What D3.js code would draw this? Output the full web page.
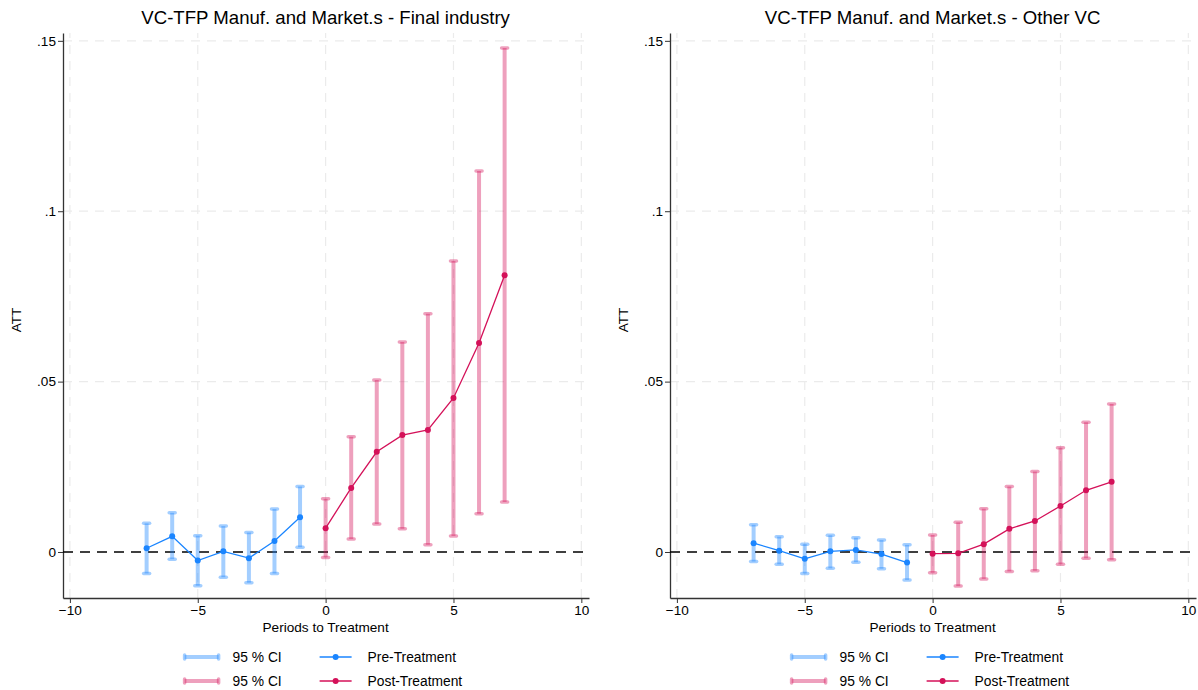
<!DOCTYPE html>
<html>
<head>
<meta charset="utf-8">
<script src="https://cdn.jsdelivr.net/npm/d3@7"></script>
<style>
  body { margin: 0; background: #fff; }
  text { font-family: "Liberation Sans", Arial, sans-serif; fill: #000; }
</style>
</head>
<body>
<div id="chart"></div>
<script>
var W = 1198, H = 690;

// periods
var prePeriods = [-7, -6, -5, -4, -3, -2, -1];
var postPeriods = [0, 1, 2, 3, 4, 5, 6, 7];

// panel 1 - Final industry
var finalPreAtt = [0.0011, 0.0046, -0.0025, 0.0002, -0.0018, 0.0032, 0.0102];
var finalPreLo  = [-0.0063, -0.0021, -0.0099, -0.0074, -0.0090, -0.0063, 0.0014];
var finalPreHi  = [0.0084, 0.0115, 0.0048, 0.0076, 0.0057, 0.0126, 0.0192];
var finalPostAtt = [0.0070, 0.0188, 0.0294, 0.0343, 0.0358, 0.0452, 0.0613, 0.0812];
var finalPostLo  = [-0.0016, 0.0038, 0.0082, 0.0068, 0.0021, 0.0047, 0.0112, 0.0147];
var finalPostHi  = [0.0156, 0.0338, 0.0505, 0.0616, 0.0699, 0.0854, 0.1118, 0.1479];

// panel 2 - Other VC
var otherPreAtt = [0.0026, 0.0004, -0.0020, 0.0002, 0.0006, -0.0006, -0.0031];
var otherPreLo  = [-0.0028, -0.0036, -0.0063, -0.0048, -0.0030, -0.0049, -0.0082];
var otherPreHi  = [0.0080, 0.0045, 0.0023, 0.0049, 0.0042, 0.0035, 0.0021];
var otherPostAtt = [-0.0005, -0.0004, 0.0023, 0.0068, 0.0091, 0.0135, 0.0181, 0.0206];
var otherPostLo  = [-0.0061, -0.0100, -0.0079, -0.0057, -0.0055, -0.0036, -0.0018, -0.0023];
var otherPostHi  = [0.0050, 0.0087, 0.0127, 0.0192, 0.0236, 0.0306, 0.0381, 0.0434];

var xTicks = [-10, -5, 0, 5, 10];
var yTicks = [0, 0.05, 0.1, 0.15];
var yTickLabels = ["0", ".05", ".1", ".15"];

var preColor = "#1a85ff", postColor = "#d41159";
var ciOpacity = 0.4;

var svg = d3.select("#chart").append("svg")
    .attr("width", W)
    .attr("height", H);

function drawPanel(left, title, preAtt, preLo, preHi, postAtt, postLo, postHi) {
    var right = left + 526;
    var x = d3.scaleLinear().domain([-10.27, 10.3]).range([left, right]);
    var y = d3.scaleLinear().domain([-0.0135, 0.1523]).range([598, 33]);
    var g = svg.append("g");

    // grid
    g.selectAll(".vgrid").data(xTicks).enter().append("line")
        .attr("x1", function (d) { return x(d); })
        .attr("x2", function (d) { return x(d); })
        .attr("y1", y.range()[0]).attr("y2", y.range()[1])
        .attr("stroke", "#ebebeb").attr("stroke-width", 1.2)
        .attr("stroke-dasharray", "9,7");
    g.selectAll(".hgrid").data(yTicks.slice(1)).enter().append("line")
        .attr("x1", left).attr("x2", right)
        .attr("y1", function (d) { return y(d); })
        .attr("y2", function (d) { return y(d); })
        .attr("stroke", "#ebebeb").attr("stroke-width", 1.2)
        .attr("stroke-dasharray", "9,7");

    // axes
    var xAxis = g.append("g")
        .attr("transform", "translate(0,598)")
        .call(d3.axisBottom(x).tickValues(xTicks).tickSize(5).tickSizeOuter(0));
    var yAxis = g.append("g")
        .attr("transform", "translate(" + left + ",0)")
        .call(d3.axisLeft(y).tickValues(yTicks).tickSize(5).tickSizeOuter(0)
            .tickFormat(function (d, i) { return yTickLabels[i]; }));
    [xAxis, yAxis].forEach(function (a) {
        a.select(".domain").attr("stroke", "#333").attr("stroke-width", 1.3);
        a.selectAll(".tick line").attr("stroke", "#333");
        a.selectAll("text").style("font-size", "13.6px")
            .style("font-family", "Liberation Sans, Arial, sans-serif").attr("fill", "#000");
    });
    yAxis.selectAll("text").attr("x", -7);
    xAxis.selectAll("text").attr("y", 7);

    // zero line
    g.append("line")
        .attr("x1", left).attr("x2", right)
        .attr("y1", y(0)).attr("y2", y(0))
        .attr("stroke", "#000").attr("stroke-width", 1.6)
        .attr("stroke-dasharray", "10,7");

    function drawSeries(periods, att, lo, hi, color) {
        var ci = g.append("g");
        periods.forEach(function (p, i) {
            ci.append("line")
                .attr("x1", x(p)).attr("x2", x(p))
                .attr("y1", y(lo[i])).attr("y2", y(hi[i]))
                .attr("stroke", color).attr("stroke-opacity", ciOpacity)
                .attr("stroke-width", 4);
            [lo[i], hi[i]].forEach(function (v) {
                ci.append("line")
                    .attr("x1", x(p) - 3).attr("x2", x(p) + 3)
                    .attr("y1", y(v)).attr("y2", y(v))
                    .attr("stroke", color).attr("stroke-opacity", ciOpacity)
                    .attr("stroke-width", 3.5)
                    .attr("stroke-linecap", "round");
            });
        });
        var pts = periods.map(function (p, i) { return [p, att[i]]; });
        g.append("path")
            .datum(pts)
            .attr("fill", "none")
            .attr("stroke", color).attr("stroke-width", 1.3)
            .attr("d", d3.line().x(function (d) { return x(d[0]); }).y(function (d) { return y(d[1]); }));
        g.selectAll(null).data(pts).enter().append("circle")
            .attr("cx", function (d) { return x(d[0]); })
            .attr("cy", function (d) { return y(d[1]); })
            .attr("r", 3)
            .attr("fill", color);
    }
    drawSeries(prePeriods, preAtt, preLo, preHi, preColor);
    drawSeries(postPeriods, postAtt, postLo, postHi, postColor);

    var cx = x(0);
    // title
    g.append("text")
        .attr("x", cx).attr("y", 24)
        .attr("text-anchor", "middle")
        .style("font-size", "18.6px")
        .text(title);
    // axis titles
    g.append("text")
        .attr("x", cx).attr("y", 632)
        .attr("text-anchor", "middle")
        .style("font-size", "13.6px")
        .text("Periods to Treatment");
    g.append("text")
        .attr("transform", "translate(" + (left - 42) + ",320) rotate(-90)")
        .attr("text-anchor", "middle")
        .style("font-size", "13.6px")
        .text("ATT");

    // legend
    var lx = cx - 141;
    var rows = [
        {y: 657, col: preColor, label: "Pre-Treatment"},
        {y: 681, col: postColor, label: "Post-Treatment"}
    ];
    rows.forEach(function (r) {
        var sym = g.append("g");
        sym.append("line")
            .attr("x1", lx).attr("x2", lx + 34)
            .attr("y1", r.y).attr("y2", r.y)
            .attr("stroke", r.col).attr("stroke-opacity", ciOpacity)
            .attr("stroke-width", 4);
        [lx, lx + 34].forEach(function (ex) {
            sym.append("line")
                .attr("x1", ex).attr("x2", ex)
                .attr("y1", r.y - 2).attr("y2", r.y + 2)
                .attr("stroke", r.col).attr("stroke-opacity", ciOpacity)
                .attr("stroke-width", 3.5).attr("stroke-linecap", "round");
        });
        g.append("text")
            .attr("x", lx + 48).attr("y", r.y + 5)
            .style("font-size", "13.8px")
            .text("95 % CI");
        g.append("line")
            .attr("x1", lx + 135).attr("x2", lx + 167)
            .attr("y1", r.y).attr("y2", r.y)
            .attr("stroke", r.col).attr("stroke-width", 1.3);
        g.append("circle")
            .attr("cx", lx + 151).attr("cy", r.y).attr("r", 3)
            .attr("fill", r.col);
        g.append("text")
            .attr("x", lx + 183).attr("y", r.y + 5)
            .style("font-size", "13.8px")
            .text(r.label);
    });
}

drawPanel(63, "VC-TFP Manuf. and Market.s - Final industry",
    finalPreAtt, finalPreLo, finalPreHi, finalPostAtt, finalPostLo, finalPostHi);
drawPanel(670, "VC-TFP Manuf. and Market.s - Other VC",
    otherPreAtt, otherPreLo, otherPreHi, otherPostAtt, otherPostLo, otherPostHi);
</script>
</body>
</html>
